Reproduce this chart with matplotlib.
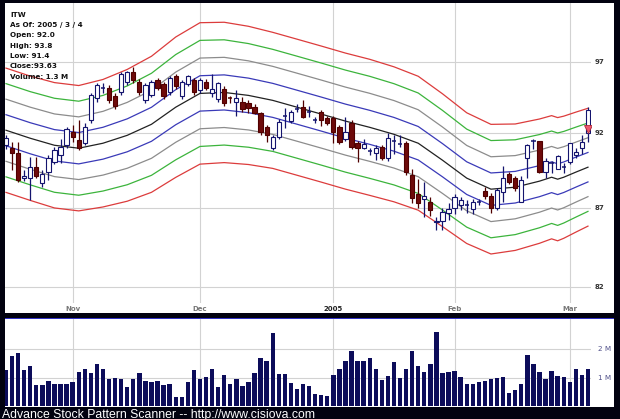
import numpy as np
import matplotlib
matplotlib.use('Agg')
import matplotlib.pyplot as plt
import matplotlib.transforms as mtrans
from matplotlib.ticker import NullLocator

# ---- data ----
opens = [91.18, 90.98, 90.64, 88.97, 88.97, 89.70, 88.65, 89.37, 90.04, 90.51,
         91.18, 92.07, 91.52, 91.32, 92.90, 94.43, 95.14, 95.14, 94.57, 94.85,
         95.56, 96.28, 95.56, 94.29, 94.65, 95.71, 95.42, 94.85, 95.99, 94.57,
         95.42, 95.71, 95.00, 95.56, 94.78, 94.36, 95.07, 94.43, 94.15, 94.15,
         94.08, 93.81, 93.39, 92.41, 90.98, 91.73, 93.18, 92.84, 93.67, 93.81,
         93.46, 92.90, 93.46, 93.05, 93.05, 92.41, 91.59, 92.70, 91.32, 90.98,
         90.78, 90.64, 91.05, 90.30, 91.50, 91.30, 91.32, 89.17, 87.94, 87.60,
         87.41, 86.12, 86.19, 86.71, 87.03, 87.22, 87.22, 86.96, 87.41, 88.13,
         87.81, 87.03, 88.06, 89.24, 88.97, 87.41, 90.30, 91.45, 91.45, 89.37,
         89.97, 89.57, 89.70, 90.04, 90.51, 90.98, 92.00]
highs = [91.90, 91.39, 91.40, 89.50, 90.37, 90.37, 89.50, 90.51, 91.05, 91.60,
         92.41, 92.55, 92.90, 92.70, 94.80, 95.50, 95.50, 95.40, 94.80, 96.30,
         96.40, 96.67, 95.80, 95.50, 95.70, 95.90, 95.60, 96.00, 96.20, 95.70,
         96.10, 95.90, 95.90, 95.80, 96.20, 95.60, 95.30, 94.60, 95.00, 94.50,
         94.30, 94.00, 93.50, 92.60, 91.90, 93.00, 93.74, 93.60, 94.00, 94.30,
         93.90, 93.10, 93.60, 93.20, 93.20, 92.60, 93.12, 92.90, 91.50, 91.60,
         91.00, 91.20, 91.20, 92.00, 91.90, 91.90, 91.50, 89.60, 88.90, 88.70,
         87.70, 86.40, 87.00, 87.35, 87.90, 87.70, 87.50, 87.60, 87.60, 88.40,
         88.00, 88.30, 89.80, 89.40, 89.10, 89.10, 91.30, 91.60, 91.50, 90.30,
         90.10, 90.50, 90.00, 91.32, 91.00, 91.90, 93.80]
lows = [90.90, 89.50, 88.70, 88.80, 87.54, 88.97, 88.40, 88.84, 89.90, 89.97,
        91.00, 91.39, 90.85, 91.20, 92.70, 94.20, 94.80, 94.10, 93.70, 94.70,
        95.40, 95.50, 94.70, 94.10, 94.50, 95.00, 94.40, 94.70, 95.10, 94.40,
        95.30, 94.70, 94.80, 95.00, 94.50, 94.20, 93.90, 94.10, 93.20, 93.50,
        93.40, 93.30, 91.90, 91.40, 90.85, 91.60, 92.34, 92.70, 93.46, 93.05,
        93.10, 92.70, 92.50, 92.55, 91.32, 91.30, 91.50, 90.90, 90.04, 90.90,
        90.50, 90.20, 90.20, 90.10, 90.60, 91.05, 89.20, 87.35, 87.00, 86.40,
        86.50, 85.60, 85.60, 86.20, 86.60, 86.90, 86.70, 86.60, 87.20, 87.60,
        86.70, 86.90, 87.40, 88.60, 88.10, 87.40, 89.00, 90.90, 89.30, 89.00,
        89.30, 89.60, 89.30, 89.90, 90.30, 90.60, 91.40]
closes = [91.66, 90.64, 88.84, 89.11, 89.70, 89.11, 89.24, 90.30, 90.85, 91.05,
          92.28, 91.73, 90.98, 92.41, 94.65, 95.35, 95.18, 94.29, 93.88, 96.13,
          96.28, 95.71, 94.85, 95.35, 95.56, 95.14, 94.57, 95.85, 95.28, 95.56,
          95.99, 94.85, 95.71, 95.14, 95.07, 95.49, 94.08, 94.40, 94.43, 93.67,
          93.74, 93.39, 92.07, 91.86, 91.73, 92.77, 93.20, 93.46, 93.70, 93.12,
          93.48, 92.92, 92.90, 92.70, 92.07, 91.39, 92.07, 91.05, 90.98, 91.25,
          90.80, 90.98, 90.30, 91.66, 91.52, 91.32, 89.37, 87.67, 87.35, 87.80,
          86.90, 86.19, 86.77, 86.96, 87.74, 87.54, 87.24, 87.41, 87.43, 87.81,
          87.03, 88.19, 88.97, 88.71, 88.32, 88.84, 91.18, 91.47, 89.37, 90.10,
          89.99, 90.44, 89.72, 91.32, 90.71, 91.39, 93.63]
volumes = [1.26, 1.75, 1.87, 1.26, 1.40, 0.74, 0.74, 0.89, 0.77, 0.76,
           0.78, 0.84, 1.19, 1.32, 1.15, 1.47, 1.32, 0.97, 0.99, 0.95,
           0.68, 0.95, 1.15, 0.89, 0.83, 0.89, 0.74, 0.77, 0.33, 0.32,
           0.83, 1.26, 0.94, 1.03, 1.32, 0.68, 1.09, 0.77, 0.97, 0.70,
           0.83, 1.16, 1.68, 1.58, 2.57, 1.14, 1.13, 0.82, 0.61, 0.76,
           0.70, 0.42, 0.39, 0.35, 1.09, 1.31, 1.59, 1.93, 1.58, 1.58,
           1.68, 1.32, 0.91, 1.05, 1.56, 0.99, 1.32, 1.95, 1.40, 1.19,
           1.49, 2.60, 1.18, 1.20, 1.23, 1.02, 0.78, 0.78, 0.83, 0.89,
           0.97, 0.99, 1.02, 0.47, 0.58, 0.79, 1.79, 1.49, 1.21, 0.96,
           1.25, 1.05, 1.02, 0.84, 1.29, 1.08, 1.32]

# band centre line (black) and band step (log spacing) read at these sessions
band_idx = [0, 4, 8, 12, 16, 20, 24, 28, 32, 36, 40, 44, 48, 52,
            56, 60, 64, 68, 72, 76, 80, 84, 88, 90, 91, 92, 94, 96]
band_mid = [92.21, 91.66, 91.18, 90.98, 91.32, 91.86, 92.62, 93.81, 94.78,
            94.85, 94.64, 94.29, 93.81, 93.33, 92.84, 92.41, 91.93, 91.32,
            90.17, 88.97, 88.24, 88.37, 88.77, 89.03, 88.90, 89.03, 89.37,
            89.70]
band_step = [0.0116, 0.0116, 0.0117, 0.0117, 0.0119, 0.0123, 0.0127, 0.0131,
             0.0132, 0.0131, 0.0129, 0.0127, 0.0127, 0.0127, 0.0127, 0.0127,
             0.0126, 0.0125, 0.0124, 0.0122, 0.0121, 0.0118, 0.0116, 0.0115,
             0.0115, 0.0114, 0.0112, 0.0110]
band_colors = ['#3a3ab8', '#8c8c8c', '#3cb43c', '#dc3c3c']

month_pos = [11, 32, 54, 74, 93]
month_labels = ['Nov', 'Dec', '2005', 'Feb', 'Mar']
price_ticks = [82, 87, 92, 97]
vol_ticks = [1, 2]
vol_labels = ['1 M', '2 M']

info = ['ITW', 'As Of: 2005 / 3 / 4', 'Open: 92.0', 'High: 93.8',
        'Low: 91.4', 'Close:93.63', 'Volume: 1.3 M']

W, H = 620, 419
def rect(l, t, r, b):
    return [l / W, 1 - b / H, (r - l) / W, (b - t) / H]

fig = plt.figure(figsize=(W / 100, H / 100), dpi=100, facecolor='#020210')

# white panels
for box in [(5, 3, 614, 313), (5, 319, 614, 407)]:
    bg = fig.add_axes(rect(*box))
    bg.set_facecolor('white')
    bg.set_xticks([]); bg.set_yticks([])
    for s in bg.spines.values():
        s.set_visible(False)
# blue separator line
sep = fig.add_axes(rect(5, 317.5, 614, 319))
sep.set_facecolor('#3232c8')
sep.set_xticks([]); sep.set_yticks([])
for s in sep.spines.values():
    s.set_visible(False)

x = np.arange(len(closes))
xlim = (-0.16, 96.5)

# ---- price panel ----
ax = fig.add_axes(rect(5, 3, 591, 303))
ax.set_facecolor('none')
ax.set_yscale('log')
ax.set_ylim(81.05, 101.4)
ax.set_xlim(*xlim)
for s in ax.spines.values():
    s.set_visible(False)
ax.xaxis.set_major_locator(NullLocator()); ax.xaxis.set_minor_locator(NullLocator())
ax.yaxis.set_major_locator(NullLocator()); ax.yaxis.set_minor_locator(NullLocator())

for p in price_ticks:
    ax.axhline(p, color='#d2d2d2', lw=0.8, zorder=0)
for m in month_pos:
    ax.axvline(m, color='#d2d2d2', lw=0.8, zorder=0)

mid = np.array(band_mid)
stp = np.array(band_step)
ax.plot(band_idx, mid, color='#222222', lw=0.9, zorder=1)
for k, c in enumerate(band_colors, start=1):
    ax.plot(band_idx, mid * np.exp(k * stp), color=c, lw=0.9, zorder=1)
    ax.plot(band_idx, mid * np.exp(-k * stp), color=c, lw=0.9, zorder=1)

# candles
bw = 0.7
for i in x:
    o, h, l, c = opens[i], highs[i], lows[i], closes[i]
    up = c >= o
    edge = '#14146e' if up else '#500000'
    ax.vlines(i, l, h, color=edge, lw=0.9, zorder=2)
    if abs(c - o) < 0.05:
        ax.hlines(o, i - bw / 2, i + bw / 2, color=edge, lw=1.1, zorder=3)
    else:
        ax.bar(i, abs(c - o), bottom=min(o, c), width=bw,
               color='white' if up else '#6e0a0a', edgecolor=edge,
               lw=0.8, zorder=3)

ax.plot([96], [92.3], marker='v', ms=6, color='#ec5a70',
        markeredgecolor='#b02838', mew=0.6, zorder=4)

ytr = mtrans.blended_transform_factory(ax.transAxes, ax.transData)
for p in price_ticks:
    ax.text(1.007, p, str(p), transform=ytr, fontsize=5, fontweight='bold',
            color='#333333', va='center', ha='left')

xtr = mtrans.blended_transform_factory(ax.transData, ax.transAxes)
for m, lab in zip(month_pos, month_labels):
    bold = lab == '2005'
    ax.text(m, -0.02, lab, transform=xtr, fontsize=5, fontweight='bold',
            color='#222222' if bold else '#777777', ha='center', va='center')

for j, t in enumerate(info):
    fig.text(10 / W, 1 - (14.8 + j * 10.3) / H, t, fontsize=5.2,
             fontweight='bold', color='#111111', va='center', ha='left')

# ---- volume panel ----
axv = fig.add_axes(rect(5, 319, 591, 406))
axv.set_facecolor('none')
axv.set_xlim(*xlim)
axv.set_ylim(0, 3.07)
for s in axv.spines.values():
    s.set_visible(False)
axv.set_xticks([]); axv.set_yticks([])
for v in vol_ticks:
    axv.axhline(v, color='#d2d2d2', lw=0.8, zorder=0)
for m in month_pos:
    axv.axvline(m, color='#d2d2d2', lw=0.8, zorder=0)
axv.bar(x, volumes, width=0.72, color='#0c0c5a', zorder=2)
vtr = mtrans.blended_transform_factory(axv.transAxes, axv.transData)
for v, lab in zip(vol_ticks, vol_labels):
    axv.text(1.012, v, lab, transform=vtr, fontsize=5.2, color='#50508a',
             va='center', ha='left')

fig.text(2 / W, 1 - 417.5 / H,
         'Advance Stock Pattern Scanner -- http://www.cisiova.com',
         fontsize=8.8, family='Liberation Sans', color='white',
         va='baseline', ha='left')

fig.savefig('out.png', dpi=100, facecolor=fig.get_facecolor())
